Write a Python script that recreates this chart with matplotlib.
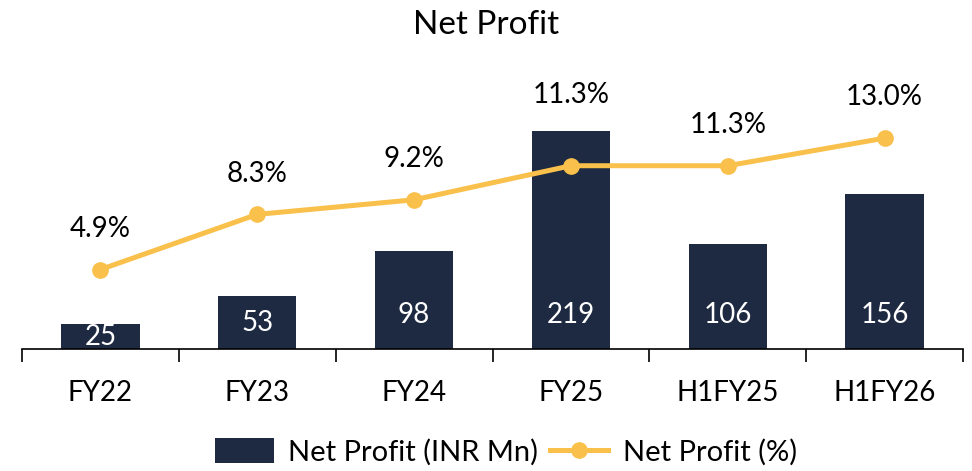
import numpy as np
import matplotlib.pyplot as plt

# data
categories = ["FY22", "FY23", "FY24", "FY25", "H1FY25", "H1FY26"]
profit = [25, 53, 98, 219, 106, 156]
margin = [4.9, 8.3, 9.2, 11.3, 11.3, 13.0]

bar_color = "#1e2a42"
line_color = "#f9c04b"

plt.rcParams["font.family"] = ["Lato", "DejaVu Sans"]

fig = plt.figure(figsize=(9.72, 4.71), dpi=100)
ax = fig.add_axes([22 / 972, 122 / 471, 941 / 972, 300 / 471])

x = np.arange(len(categories))
ax.bar(x, profit, width=0.5, color=bar_color, label="Net Profit (INR Mn)", zorder=2)
ax.set_ylim(0, 301.5)
ax.set_xlim(-0.5, len(categories) - 0.5)

# white value labels near the bar base
for xi, v in zip(x, profit):
    ax.text(xi, min(v / 2, 34), str(v), color="white", ha="center", va="center",
            fontsize=20, zorder=3)

pct_scale = 16.3  # primary units per percentage point
ax2 = ax.twinx()
ax2.plot(x, margin, color=line_color, lw=3.6, marker="o", ms=11,
         label="Net Profit (%)", zorder=4)
ax2.set_ylim(0, 301.5 / pct_scale)

# percent labels above the point, pushed above the bar when they would overlap it
for xi, m, v in zip(x, margin, profit):
    y_lab = max(m * pct_scale + 41, v + 36)
    ax.text(xi, y_lab, f"{m:.1f}%", ha="center", va="center", fontsize=20,
            zorder=5, clip_on=False)

for a in (ax, ax2):
    for s in ["top", "right", "left"]:
        a.spines[s].set_visible(False)
    a.set_yticks([])
ax2.spines["bottom"].set_visible(False)
ax.spines["bottom"].set_linewidth(1.2)

ax.set_xticks(x)
ax.set_xticklabels(categories, fontsize=20)
ax.tick_params(axis="x", which="major", length=0, pad=22)
ax.set_xticks(np.arange(len(categories) + 1) - 0.5, minor=True)
ax.tick_params(axis="x", which="minor", length=9, width=1.2, direction="out")

fig.text(0.5, 1 - 25 / 471, "Net Profit", ha="center", va="center", fontsize=24)

h1, l1 = ax.get_legend_handles_labels()
h2, l2 = ax2.get_legend_handles_labels()
fig.legend(h1 + h2, l1 + l2, loc="center", bbox_to_anchor=(506 / 972, 1 - 452 / 471),
           ncol=2, frameon=False, fontsize=21, handlelength=2.0, handleheight=0.9,
           columnspacing=0.4, handletextpad=0.5)

fig.savefig("out.png", dpi=100)
